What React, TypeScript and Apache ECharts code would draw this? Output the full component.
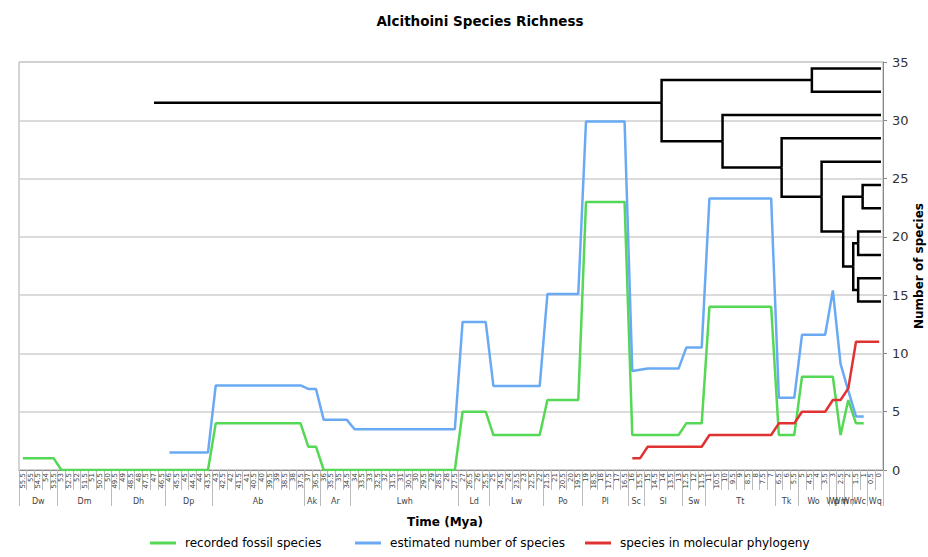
import React, { useEffect, useRef } from 'react';
import * as echarts from 'echarts';

// ---- X axis: time slots every 0.5 Mya (55.5 ... 0) ----
const myaTicks: string[] = [];
for (let i = 0; i < 112; i++) {
  const m = 55.5 - i * 0.5;
  myaTicks.push(Number.isInteger(m) ? String(m) : m.toFixed(1));
}

// ---- NZ stages (names and boundaries in Mya) ----
const stageNames = ['Dw', 'Dm', 'Dh', 'Dp', 'Ab', 'Ak', 'Ar', 'Lwh', 'Ld', 'Lw', 'Po', 'Pl', 'Sc', 'Sl', 'Sw', 'Tt', 'Tk', 'Wo', 'Wp', 'Wm', 'Wn', 'Wc', 'Wq'];
const stageBoundaries = [55.75, 53.25, 49.75, 46.25, 43.25, 37.25, 36.25, 34.25, 27.25, 25.25, 21.75, 19.25, 16.25, 15.25, 12.75, 11.25, 6.75, 5.25, 3.25, 2.75, 2.25, 1.75, 0.75, -0.25];

// ---- Y axis ----
const yTicks = [0, 5, 10, 15, 20, 25, 30, 35];

// ---- Series: [Mya, number of species] at the slots where the value changes ----
const fossilSpecies: [number, number][] = [
  [55.5, 1], [53.5, 1], [53, 0], [43.5, 0], [43, 4], [37.5, 4], [37, 2], [36.5, 2], [36, 0],
  [27.5, 0], [27, 5], [25.5, 5], [25, 3], [22, 3], [21.5, 6], [19.5, 6], [19, 23], [16.5, 23],
  [16, 3], [13, 3], [12.5, 4], [11.5, 4], [11, 14], [7, 14], [6.5, 3], [5.5, 3], [5, 8], [3, 8],
  [2.5, 3], [2, 6], [1.5, 4], [1, 4],
];
const estimatedSpecies: [number, number][] = [
  [46, 1.5], [43.5, 1.5], [43, 7.25], [37.5, 7.25], [37, 6.95], [36.5, 6.95], [36, 4.3], [34.5, 4.3],
  [34, 3.5], [27.5, 3.5], [27, 12.7], [25.5, 12.7], [25, 7.2], [22, 7.2], [21.5, 15.1], [19.5, 15.1],
  [19, 29.9], [16.5, 29.9], [16, 8.5], [15.5, 8.6], [15, 8.7], [13, 8.7], [12.5, 10.5], [11.5, 10.5],
  [11, 23.3], [7, 23.3], [6.5, 6.2], [5.5, 6.2], [5, 11.6], [3.5, 11.6], [3, 15.4], [2.5, 9.1],
  [2, 6.8], [1.5, 4.6], [1, 4.6],
];
const phylogenySpecies: [number, number][] = [
  [16, 1], [15.5, 1], [15, 2], [11.5, 2], [11, 3], [7, 3], [6.5, 4], [5.5, 4], [5, 5], [3.5, 5],
  [3, 6], [2.5, 6], [2, 7], [1.5, 11], [0, 11],
];

const seriesNames = ['recorded fossil species', 'estimated number of species', 'species in molecular phylogeny'];
const seriesColors = ['#55d855', '#6aaaf5', '#e03232'];

// ---- Cladogram (x in Mya, y on species axis) ----
const treeStemStart = 47;
const nodeMya = [14.1, 4.36, 10.15, 6.32, 3.73, 2.33, 1.07, 1.68, 1.36, 1.36];
const nodeY = [31.5, 33.45, 28.2, 25.95, 23.45, 20.45, 23.45, 17.45, 19.45, 15.45];
const nodeParent = [-1, 0, 0, 2, 3, 4, 5, 5, 7, 7];
const tipY = [34.45, 32.45, 30.45, 28.45, 26.45, 24.45, 22.45, 20.45, 18.45, 16.45, 14.45];
const tipParent = [1, 1, 2, 3, 4, 6, 6, 8, 8, 9, 9];
const tipMya = -0.12;

const FONT = 'DejaVu Sans';

export default function App() {
  const ref = useRef<HTMLDivElement>(null);
  useEffect(() => {
    if (!ref.current) return;
    const chart = echarts.init(ref.current, undefined, { renderer: 'svg' });

    // stage axis: points every 0.25 Mya from 55.75 to -0.25
    const nPts = 225;
    const stageData: string[] = new Array(nPts).fill('');
    const boundaryIdx = new Set<number>();
    stageBoundaries.forEach((b) => boundaryIdx.add(Math.round((55.75 - b) * 4)));
    stageNames.forEach((n, i) => {
      const a = Math.round((55.75 - stageBoundaries[i]) * 4);
      const b = Math.round((55.75 - stageBoundaries[i + 1]) * 4);
      stageData[(a + b) / 2] = n;
    });

    const segs: number[][][] = [[[treeStemStart, nodeY[0]], [nodeMya[0], nodeY[0]]]];
    nodeParent.forEach((p, i) => {
      if (p < 0) return;
      segs.push([[nodeMya[p], nodeY[p]], [nodeMya[p], nodeY[i]], [nodeMya[i], nodeY[i]]]);
    });
    tipParent.forEach((p, i) => {
      segs.push([[nodeMya[p], nodeY[p]], [nodeMya[p], tipY[i]], [tipMya, tipY[i]]]);
    });

    const legendLefts = [145, 350, 580];
    const datasets = [fossilSpecies, estimatedSpecies, phylogenySpecies];

    chart.setOption({
      animation: false,
      backgroundColor: '#fff',
      textStyle: { fontFamily: FONT },
      title: {
        text: 'Alcithoini Species Richness',
        left: 475,
        textAlign: 'center',
        top: 9,
        textStyle: { fontFamily: FONT, fontSize: 13.5, fontWeight: 'bold', color: '#000' },
      },
      legend: seriesNames.map((n, i) => ({
        bottom: 3,
        left: legendLefts[i],
        itemWidth: 26,
        itemHeight: 3,
        itemGap: 0,
        icon: 'rect',
        textStyle: { fontFamily: FONT, fontSize: 12, color: '#000', padding: [0, 0, 0, 4] },
        data: [n],
      })),
      grid: {
        left: 19,
        right: 45,
        top: 62,
        bottom: 87,
        show: true,
        borderColor: '#aaa',
        borderWidth: 1,
        containLabel: false,
        outerBoundsMode: 'none',
      },
      graphic: [
        {
          type: 'text',
          x: 445,
          y: 522,
          style: {
            text: 'Time (Mya)',
            fontFamily: FONT,
            fontSize: 12,
            fontWeight: 'bold',
            fill: '#000',
            align: 'center',
            verticalAlign: 'middle',
          },
        },
      ],
      xAxis: [
        {
          type: 'category',
          position: 'bottom',
          data: myaTicks,
          boundaryGap: true,
          axisLine: { onZero: false, lineStyle: { color: '#888' } },
          axisTick: { show: true, alignWithLabel: false, interval: 0, length: 20, lineStyle: { color: '#bbb' } },
          axisLabel: { interval: 0, rotate: 90, fontSize: 7, margin: 3, color: '#444', fontFamily: FONT },
          splitLine: { show: false },
        },
        {
          type: 'category',
          position: 'bottom',
          data: stageData,
          boundaryGap: false,
          axisLine: { show: false, onZero: false },
          axisTick: {
            show: true,
            length: 36,
            interval: (idx: number) => boundaryIdx.has(idx),
            lineStyle: { color: '#bbb' },
          },
          axisLabel: {
            interval: (_idx: number, v: string) => v !== '',
            fontSize: 8,
            margin: 27,
            color: '#444',
            fontFamily: FONT,
          },
          splitLine: { show: false },
        },
        {
          type: 'value',
          position: 'bottom',
          min: -0.25,
          max: 55.75,
          inverse: true,
          show: false,
          axisLine: { onZero: false },
          splitLine: { show: false },
        },
      ],
      yAxis: {
        type: 'value',
        position: 'right',
        min: yTicks[0],
        max: yTicks[yTicks.length - 1],
        interval: 5,
        name: 'Number of species',
        nameLocation: 'middle',
        nameRotate: 90,
        nameGap: 30,
        nameMoveOverlap: false,
        nameTextStyle: { fontFamily: FONT, fontSize: 12, fontWeight: 'bold', color: '#000' },
        axisLine: { show: true, onZero: false, lineStyle: { color: '#888' } },
        axisTick: { show: true, length: 4, lineStyle: { color: '#888' } },
        axisLabel: { fontSize: 13, color: '#333', margin: 9, fontFamily: FONT },
        splitLine: { show: true, lineStyle: { color: '#cfcfcf', width: 1.5 } },
      },
      series: [
        ...seriesNames.map((n, i) => ({
          name: n,
          type: 'line',
          xAxisIndex: 2,
          yAxisIndex: 0,
          data: datasets[i],
          showSymbol: false,
          color: seriesColors[i],
          lineStyle: { width: 2.5, color: seriesColors[i] },
          z: 3,
        })),
        {
          type: 'lines',
          coordinateSystem: 'cartesian2d',
          xAxisIndex: 2,
          yAxisIndex: 0,
          polyline: true,
          silent: true,
          lineStyle: { color: '#000', width: 2.5, opacity: 1, curveness: 0 },
          data: segs.map((c) => ({ coords: c })),
          z: 4,
        },
      ],
    });
    return () => chart.dispose();
  }, []);
  return <div ref={ref} style={{ position: 'absolute', left: 0, top: 0, width: 928, height: 557 }} />;
}
